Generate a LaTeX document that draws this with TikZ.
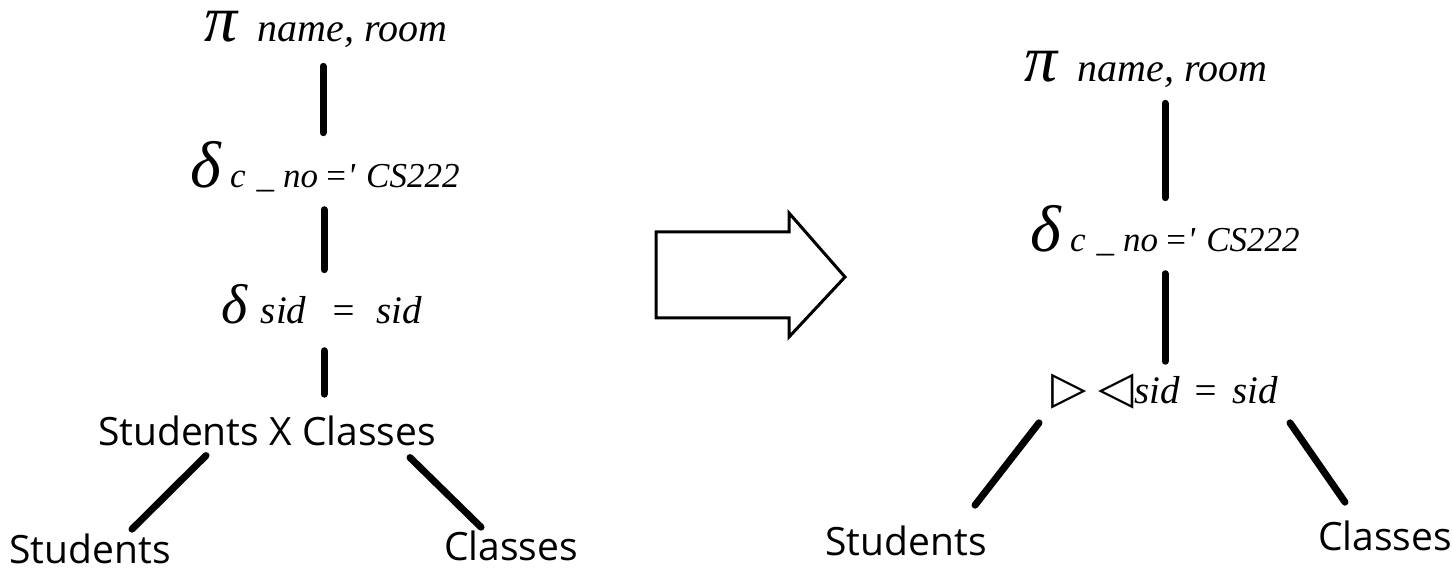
\documentclass[tikz,border=0pt]{standalone}
\usepackage{fontspec}
\setmainfont{Liberation Serif}
\newfontfamily\relsans{Open Sans}
\newfontfamily\symfont{DejaVu Sans}
\usetikzlibrary{positioning}
\tikzset{
    opnode/.style={inner sep=0pt, anchor=base},
    relnode/.style={inner sep=0pt, anchor=base, font=\relsans\fontsize{39}{40}\selectfont},
    edge/.style={line width=7pt, line cap=round},
    bigarrow/.style={line width=3pt, line join=miter}
}
\newcommand{\opsym}[2]{{\fontsize{#1}{#1}\selectfont\itshape #2}}
\newcommand{\projtext}{\opsym{66}{π}\hspace{20pt}{\fontsize{40}{40}\selectfont\itshape name, room}}
\newcommand{\selctext}{\opsym{66}{δ}\hspace{9pt}{\fontsize{35}{35}\selectfont\itshape c\hspace{11pt}\_\hspace{9pt}no\hspace{6pt}=\textquotesingle\hspace{11pt}CS222}}
\newcommand{\sidtext}[2]{{\fontsize{39}{39}\selectfont\itshape sid\hspace{#1}=\hspace{#2}sid}}

\begin{document}
\begin{tikzpicture}[x=1pt, y=-1pt]
    \useasboundingbox (0,0) rectangle (1452,569);
    % Left tree
    \node (projL) [opnode] at (326,42) {\projtext};
    \node (selcL) [opnode] at (325,188) {\selctext};
    \node (selsL) [opnode] at (322,324) {\opsym{56}{δ}\hspace{13pt}\sidtext{24pt}{20pt}};
    \node (prodL) [relnode] at (267,445) {Students X Classes};
    \node (studL) [relnode] at (90,563) {Students};
    \node (clasL) [relnode] at (511,560) {Classes};
    \draw [edge] ([xshift=-3pt,yshift=-18pt]projL.south) -- ([xshift=-2pt,yshift=9pt]selcL.north);
    \draw [edge] ([xshift=-1pt,yshift=-17pt]selcL.south) -- ([xshift=2pt,yshift=15pt]selsL.north);
    \draw [edge] ([xshift=2pt,yshift=-26pt]selsL.south) -- ([xshift=57pt,yshift=21pt]prodL.north);
    \draw [edge] ([xshift=-61pt,yshift=-10pt]prodL.south) -- ([xshift=42pt,yshift=4pt]studL.north);
    \draw [edge] ([xshift=143pt,yshift=-12pt]prodL.south) -- ([xshift=-30pt,yshift=3pt]clasL.north);
    % Transformation arrow
    \draw [bigarrow] (656,232) -- (789,232) -- (789,213) -- (845,277) -- (789,337) -- (789,318) -- (656,318) -- cycle;
    % Right tree
    \node (projR) [opnode] at (1146,82) {\projtext};
    \node (selcR) [opnode] at (1165,252) {\selctext};
    \node (joinR) [opnode] at (1165,403) {{\symfont\fontsize{46}{46}\selectfont ▷\hspace{11pt}◁}\hspace{1pt}\sidtext{12pt}{14pt}};
    \node (studR) [relnode] at (906,555) {Students};
    \node (clasR) [relnode] at (1385,550) {Classes};
    \draw [edge] ([xshift=19pt,yshift=-15pt]projR.south) -- ([yshift=8pt]selcR.north);
    \draw [edge] ([yshift=-17pt]selcR.south) -- ([yshift=12pt]joinR.north);
    \draw [edge] ([xshift=-126pt,yshift=-14pt]joinR.south) -- ([xshift=69pt,yshift=20pt]studR.north);
    \draw [edge] ([xshift=125pt,yshift=-14pt]joinR.south) -- ([xshift=-40pt,yshift=18pt]clasR.north);
\end{tikzpicture}
\end{document}
